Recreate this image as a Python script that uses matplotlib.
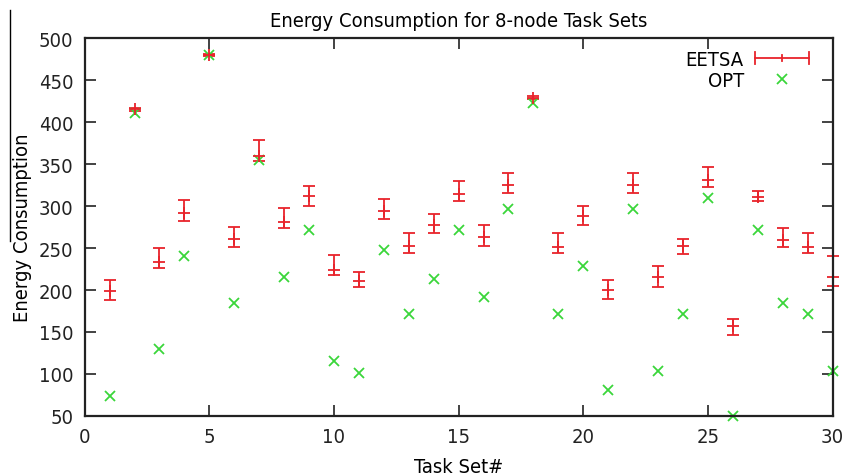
import matplotlib.pyplot as plt
from matplotlib.lines import Line2D
from matplotlib.legend_handler import HandlerBase

plt.rcParams['font.family'] = 'DejaVu Sans'
plt.rcParams['font.stretch'] = 'condensed'

task_sets = list(range(1, 31))

# EETSA: mean energy and its low / high bounds
eetsa = [199, 415, 233, 292, 480, 261, 359, 281, 312, 224,
         211, 294, 252, 277, 314, 263, 325, 429, 251, 288,
         200, 325, 216, 252, 331, 157, 311, 260, 251, 215]
eetsa_low = [188, 413, 226, 282, 479, 251, 354, 274, 300, 218,
             203, 285, 244, 268, 306, 252, 316, 427, 244, 277,
             189, 316, 204, 243, 323, 147, 306, 251, 244, 205]
eetsa_high = [212, 417, 250, 307, 481, 275, 378, 298, 324, 242,
              221, 308, 268, 291, 330, 277, 339, 431, 268, 300,
              212, 339, 228, 261, 347, 165, 318, 274, 268, 241]

# optimal solution
opt = [74, 411, 130, 241, 480, 185, 355, 215, 271, 116,
       101, 248, 171, 213, 271, 192, 297, 423, 171, 228,
       81, 297, 103, 171, 310, 50, 271, 185, 171, 103]

red = '#e8232b'
green = '#3ad63a'
fs = 14.5
err_lo = [c - l for c, l in zip(eetsa, eetsa_low)]
err_hi = [h - c for c, h in zip(eetsa, eetsa_high)]


class HorizErrHandler(HandlerBase):
    # gnuplot-style key sample: horizontal bar with end ticks and a centre tick
    def create_artists(self, legend, orig_handle, xdescent, ydescent,
                       width, height, fontsize, trans):
        y = height / 2 - ydescent
        x0, x1 = -xdescent, width - xdescent
        cap = height * 0.4
        arts = [Line2D([x0, x1], [y, y], color=red, lw=1.3)]
        for xx, h in ((x0, cap), (x1, cap), ((x0 + x1) / 2, cap * 0.6)):
            arts.append(Line2D([xx, xx], [y - h, y + h], color=red, lw=1.3))
        for a in arts:
            a.set_transform(trans)
        return arts


fig = plt.figure(figsize=(8.49, 4.77), dpi=100)
ax = fig.add_axes([0.0997, 0.1258, 0.8810, 0.7924])

eb = ax.errorbar(task_sets, eetsa, yerr=[err_lo, err_hi], fmt='+', color=red,
                 ecolor=red, elinewidth=1.3, capsize=4, capthick=1.3,
                 markersize=8, markeredgewidth=1.3, label='EETSA')
data_line, caps, bars = eb.lines
for art in [data_line, *caps, *bars]:
    art.set_clip_on(False)
op, = ax.plot(task_sets, opt, 'x', color=green, markersize=7,
              markeredgewidth=1.3, label='OPT', clip_on=False)

ax.set_xlim(0, 30)
ax.set_ylim(50, 500)
ax.set_xticks(range(0, 31, 5))
ax.set_yticks(range(50, 501, 50))
ax.tick_params(direction='in', length=8, width=1.2, top=True, right=True,
               labelsize=fs, colors='#222222', pad=8)
for s in ax.spines.values():
    s.set_linewidth(1.6)
    s.set_color('#222222')

ax.set_title('Energy Consumption for 8-node Task Sets', fontsize=fs, pad=9)
ax.set_xlabel('Task Set#', fontsize=fs, labelpad=8)
ax.set_ylabel('Energy Consumption', fontsize=fs, labelpad=5)

ax.legend([eb, op], ['EETSA', 'OPT'], loc='upper right', frameon=False,
          markerfirst=False, fontsize=fs, handlelength=2.7,
          handletextpad=0.55, labelspacing=0.1, borderaxespad=0.2,
          bbox_to_anchor=(0.985, 1.0),
          handler_map={eb: HorizErrHandler()})

# thin rule down the left edge of the figure
fig.add_artist(Line2D([10 / 849, 10 / 849], [1 - 11 / 477, 1 - 242 / 477],
                      transform=fig.transFigure, color='black', lw=1))

fig.savefig('out.png', dpi=100)
